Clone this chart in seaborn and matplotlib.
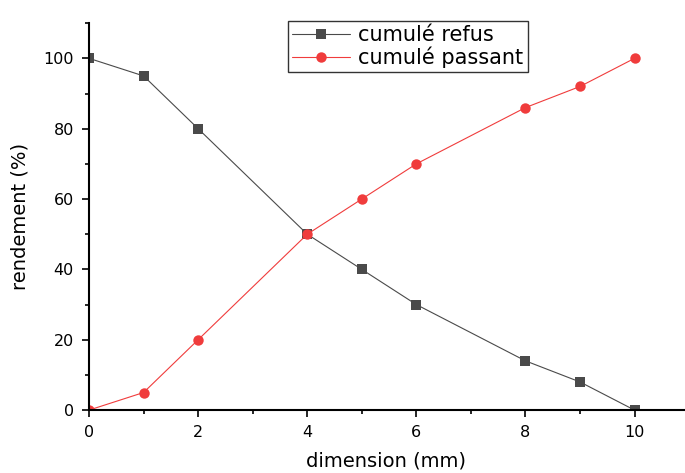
import pandas as pd
import matplotlib
matplotlib.use("Agg")
import matplotlib.pyplot as plt
import seaborn as sns
from matplotlib.ticker import MultipleLocator

# data
dimension = [0, 1, 2, 4, 5, 6, 8, 9, 10]
refus = [100, 95, 80, 50, 40, 30, 14, 8, 0]
passant = [0, 5, 20, 50, 60, 70, 86, 92, 100]
series_names = ["cumulé refus", "cumulé passant"]

df = pd.concat([
    pd.DataFrame({"dimension": dimension, "rendement": refus, "serie": series_names[0]}),
    pd.DataFrame({"dimension": dimension, "rendement": passant, "serie": series_names[1]}),
])

sns.set_style("ticks")
plt.rcParams['font.family'] = ['DejaVu Sans']
plt.rcParams['text.color'] = "black"
plt.rcParams['axes.labelcolor'] = "black"
plt.rcParams['xtick.color'] = "black"
plt.rcParams['ytick.color'] = "black"

fig = plt.figure(figsize=(6.85, 4.73), dpi=100)
ax = fig.add_axes([0.130, 0.133, 0.868, 0.818])

palette = {series_names[0]: "#4a4a4a", series_names[1]: "#f03c3c"}
markers = {series_names[0]: "s", series_names[1]: "o"}
sns.lineplot(data=df, x="dimension", y="rendement", hue="serie", style="serie",
             markers=markers, dashes=False, palette=palette, linewidth=0.8,
             markersize=7.5, markeredgewidth=0, ax=ax)

ax.set_xlim(0, 10.9)
ax.set_ylim(0, 110)
ax.xaxis.set_major_locator(MultipleLocator(2))
ax.xaxis.set_minor_locator(MultipleLocator(1))
ax.yaxis.set_major_locator(MultipleLocator(20))
ax.yaxis.set_minor_locator(MultipleLocator(10))
ax.tick_params(which="major", length=5, width=1.2, labelsize=11.5, direction="out",
               color="black", labelcolor="black", pad=6)
ax.tick_params(which="minor", length=3, width=1.2, direction="out", color="black")
for s in ["top", "right"]:
    ax.spines[s].set_visible(False)
for s in ["left", "bottom"]:
    ax.spines[s].set_linewidth(1.5)
    ax.spines[s].set_color("black")
ax.set_xlabel("dimension (mm)", fontsize=14, labelpad=8, color="black")
ax.set_ylabel("rendement (%)", fontsize=14, labelpad=10, color="black")

ax.get_legend().remove()
leg = fig.legend(loc="upper center", bbox_to_anchor=(0.595, 0.977), fontsize=15,
                 frameon=True, fancybox=False, borderpad=0.2, handlelength=2.8,
                 labelspacing=0.05, handletextpad=0.4,
                 handles=ax.get_lines()[:2], labels=series_names)
leg.get_frame().set_edgecolor("black")
leg.get_frame().set_linewidth(1.0)
for t in leg.get_texts():
    t.set_color("black")

fig.savefig("out.png", dpi=100)
